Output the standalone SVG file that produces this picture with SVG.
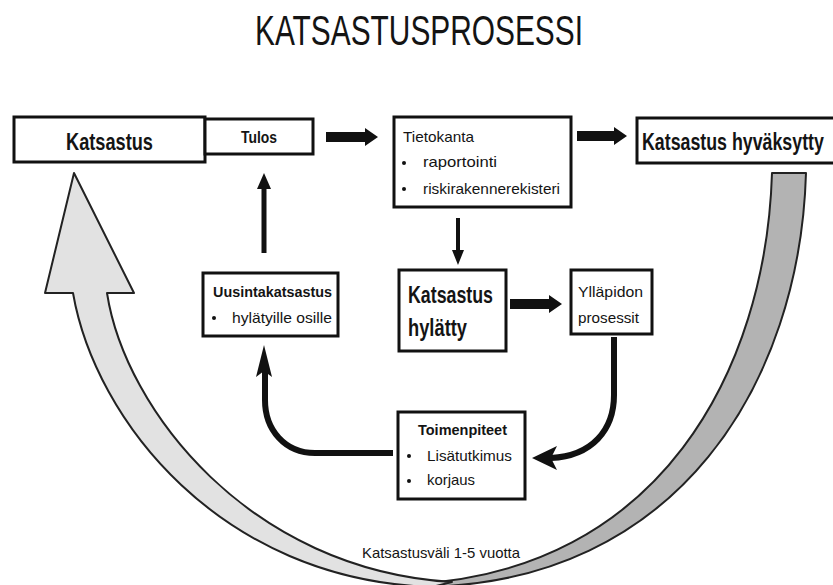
<svg xmlns="http://www.w3.org/2000/svg" width="833" height="585" viewBox="0 0 833 585">
<style>
.box{fill:#fff;stroke:#111;stroke-width:3}
.t{font-family:"Liberation Sans",Arial,sans-serif;fill:#141414}
.b{font-weight:bold}
.s14{font-size:15px}
.s15{font-size:16px}
.s22{font-size:24px}
.blk{fill:#111;stroke:none}
.ln{fill:none;stroke:#111;stroke-width:6}
.band{stroke:#222;stroke-width:2;stroke-linejoin:round}
</style>
<rect width="833" height="585" fill="#fff"/>
<text class="t" x="255" y="45" font-size="42" fill="#262626" textLength="328" lengthAdjust="spacingAndGlyphs">KATSASTUSPROSESSI</text>

<g id="cycle">
<path class="band" fill="#b3b3b3" d="M772,173 L806,173 C800,380 680,585 420,587 L412,584 C660,572 766,370 772,173 Z"/>
<path class="band" fill="#e2e2e2" d="M74,173 L134,293 L107,293 C125,410 250,570 452,582 L432,587 C220,580 95,420 73,293 L45,293 Z"/>
<text class="t s14" x="362" y="558" fill="#333" textLength="158" lengthAdjust="spacingAndGlyphs">Katsastusväli 1-5 vuotta</text>
</g>

<g id="connectors">
<polygon class="blk" points="326,132 365,132 365,128 378,137 365,146 365,142 326,142"/>
<polygon class="blk" points="577,131 614,131 614,127 627,136 614,145 614,141 577,141"/>
<polygon class="blk" points="510,299 549,299 549,295 562,304 549,313 549,309 510,309"/>
<polygon class="blk" points="261.5,253 261.5,189 257,189 264,173 271,189 266.5,189 266.5,253"/>
<polygon class="blk" points="456,218 460,218 460,250 464,250 458,265 452,250 456,250"/>
<path class="ln" d="M614,337 L614,395 C614,430 592,456 551,458"/>
<polygon class="blk" points="532,458 557,446 551,458 557,470"/>
<path class="ln" d="M393,453 L315,453 C285,453 265,430 265,400 L265,370"/>
<polygon class="blk" points="264,345 272,377 264,371 256,377"/>
</g>

<g id="katsastus">
<rect class="box" x="14" y="117" width="191" height="45"/>
<text class="t b s22" x="66" y="150" textLength="87" lengthAdjust="spacingAndGlyphs">Katsastus</text>
</g>
<g id="tulos">
<rect class="box" x="205" y="119" width="108" height="35"/>
<text class="t b s15" x="241" y="143" textLength="36" lengthAdjust="spacingAndGlyphs">Tulos</text>
</g>
<g id="tietokanta">
<rect class="box" x="394" y="117" width="177" height="90"/>
<text class="t s14" x="403" y="142" textLength="71" lengthAdjust="spacingAndGlyphs">Tietokanta</text>
<circle class="blk" cx="404" cy="163" r="2"/>
<text class="t s14" x="423" y="167" textLength="74" lengthAdjust="spacingAndGlyphs">raportointi</text>
<circle class="blk" cx="404" cy="189" r="2"/>
<text class="t s14" x="423" y="194" textLength="137" lengthAdjust="spacingAndGlyphs">riskirakennerekisteri</text>
</g>
<g id="hyvaksytty">
<rect class="box" x="637" y="118" width="210" height="45"/>
<text class="t b" font-size="17.8" transform="translate(642,150) scale(1,1.35)">Katsastus hyväksytty</text>
</g>
<g id="uusinta">
<rect class="box" x="203" y="273" width="135" height="63"/>
<text class="t b s14" x="213" y="297" textLength="119" lengthAdjust="spacingAndGlyphs">Uusintakatsastus</text>
<circle class="blk" cx="214" cy="318" r="2"/>
<text class="t s14" x="232" y="323" textLength="100" lengthAdjust="spacingAndGlyphs">hylätyille osille</text>
</g>
<g id="hylatty">
<rect class="box" x="399" y="270" width="107" height="81"/>
<text class="t b s22" x="408" y="303" textLength="85" lengthAdjust="spacingAndGlyphs">Katsastus</text>
<text class="t b s22" x="408" y="336" textLength="59" lengthAdjust="spacingAndGlyphs">hylätty</text>
</g>
<g id="yllapidon">
<rect class="box" x="571" y="270" width="81" height="64"/>
<text class="t s14" x="578" y="297" textLength="65" lengthAdjust="spacingAndGlyphs">Ylläpidon</text>
<text class="t s14" x="578" y="323" textLength="61" lengthAdjust="spacingAndGlyphs">prosessit</text>
</g>
<g id="toimenpiteet">
<rect class="box" x="398" y="412" width="127" height="87"/>
<text class="t b s14" x="418" y="435" textLength="89" lengthAdjust="spacingAndGlyphs">Toimenpiteet</text>
<circle class="blk" cx="409" cy="456" r="2"/>
<text class="t s14" x="427" y="461" textLength="85" lengthAdjust="spacingAndGlyphs">Lisätutkimus</text>
<circle class="blk" cx="409" cy="481" r="2"/>
<text class="t s14" x="427" y="485" textLength="48" lengthAdjust="spacingAndGlyphs">korjaus</text>
</g>
</svg>
